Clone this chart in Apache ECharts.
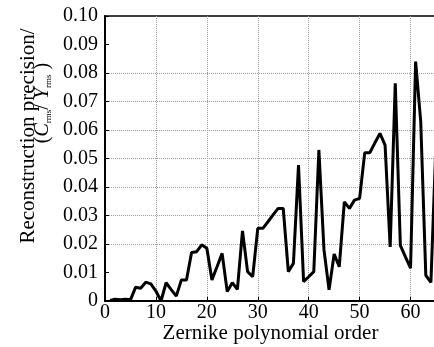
<!DOCTYPE html>
<html>
<head>
<meta charset="utf-8">
<script src="https://cdn.jsdelivr.net/npm/echarts@6/dist/echarts.min.js"></script>
<style>
html,body{margin:0;padding:0;background:#fff;}
#chart{width:434px;height:347px;}
</style>
</head>
<body>
<div id="chart"></div>
<script>
// Zernike polynomial orders
const orders = [1,2,3,4,5,6,7,8,9,10,11,12,13,14,15,16,17,18,19,20,21,22,23,24,25,26,27,28,29,30,31,32,33,34,35,36,37,38,39,40,41,42,43,44,45,46,47,48,49,50,51,52,53,54,55,56,57,58,59,60,61,62,63,64,65];
// Reconstruction precision (C_rms / Y_rms)
const precision = [0.0002,0.0006,0.0004,0.0006,0.0004,0.0048,0.0045,0.0066,0.0060,0.0035,
  0.0000,0.0064,0.0040,0.0017,0.0074,0.0074,0.0170,0.0173,0.0197,0.0185,
  0.0074,0.0120,0.0167,0.0033,0.0064,0.0041,0.0246,0.0103,0.0085,0.0255,
  0.0255,0.0278,0.0302,0.0325,0.0325,0.0103,0.0132,0.0477,0.0068,0.0085,
  0.0103,0.0530,0.0180,0.0039,0.0165,0.0120,0.0348,0.0325,0.0354,0.0360,
  0.0520,0.0520,0.0555,0.0588,0.0547,0.0190,0.0764,0.0195,0.0155,0.0115,
  0.0840,0.0630,0.0090,0.0065,0.0560];
const xTicks = [0,10,20,30,40,50,60];
const yTicks = ['0','0.01','0.02','0.03','0.04','0.05','0.06','0.07','0.08','0.09','0.10'];

const serif = "'Liberation Serif','Times New Roman',serif";
const chart = echarts.init(document.getElementById('chart'), null, {renderer:'canvas'});
const grayDot = '#9a9a9a';
chart.setOption({
  backgroundColor:'#fff',
  animation:false,
  grid:{left:105, top:16, right:-2, bottom:46, containLabel:false, outerBoundsMode:'none',
    show:true, borderColor:'#000', borderWidth:1.5, backgroundColor:'transparent'},
  xAxis:{
    type:'value', min:0, max:65, interval:10,
    name:'Zernike polynomial order', nameLocation:'middle', nameGap:22, nameMoveOverlap:false,
    nameTextStyle:{fontFamily:serif, fontSize:21, color:'#000'},
    axisLine:{show:true, lineStyle:{color:'#000', width:2}},
    axisTick:{show:true, inside:true, length:4, lineStyle:{color:'#000'}},
    axisLabel:{fontFamily:serif, fontSize:20, color:'#000', margin:2,
      formatter:v => xTicks.indexOf(v) >= 0 ? String(v) : ''},
    splitLine:{show:true, lineStyle:{type:'dotted', width:1,
      color:['transparent',grayDot,grayDot,grayDot,grayDot,grayDot,grayDot,'transparent']}}
  },
  yAxis:{
    type:'value', min:0, max:0.1, interval:0.01,
    axisLine:{show:true, lineStyle:{color:'#000', width:2}},
    axisTick:{show:true, inside:true, length:4, lineStyle:{color:'#000'}},
    axisLabel:{fontFamily:serif, fontSize:20, color:'#000', margin:7,
      formatter:(v) => yTicks[Math.round(v*100)]},
    splitLine:{show:true, lineStyle:{type:'dotted', width:1,
      color:['transparent','transparent',grayDot,grayDot,grayDot,grayDot,grayDot,grayDot,grayDot,'transparent','transparent']}}
  },
  graphic:[
    {type:'text', x:28, y:136, rotation:Math.PI/2,
      style:{text:'Reconstruction precision/', fontFamily:serif, fontSize:21, fill:'#000', align:'center', verticalAlign:'middle'}},
    {type:'text', x:43, y:103, rotation:Math.PI/2,
      style:{text:'{p|(}{i|C}{s|rms}{p|/ }{i|Y}{s|rms}{p| )}', fontFamily:serif, fontSize:20, fill:'#000', align:'center', verticalAlign:'middle',
        rich:{
          p:{fontFamily:serif, fontSize:20, fill:'#000'},
          i:{fontFamily:serif, fontSize:20, fontStyle:'italic', fill:'#000'},
          s:{fontFamily:serif, fontSize:9, fill:'#000', verticalAlign:'bottom', padding:[10,0,0,0]}
        }}}
  ],
  series:[{
    type:'line',
    data:orders.map((o,i)=>[o, precision[i]]),
    showSymbol:false, symbol:'none',
    lineStyle:{color:'#000', width:3},
    clip:true
  }]
});
</script>
</body>
</html>
